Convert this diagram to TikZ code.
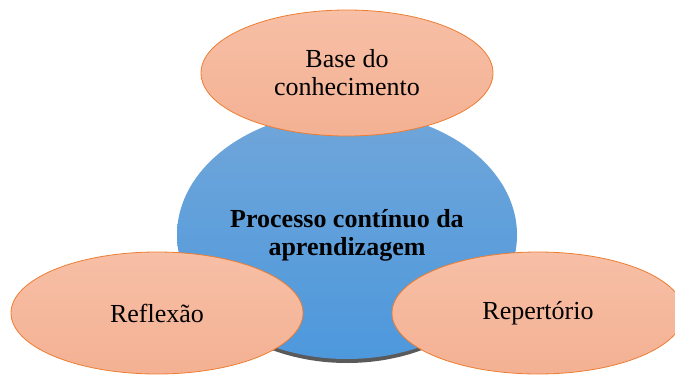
\documentclass[tikz,border=0pt]{standalone}
\usepackage{fontspec}
\setmainfont{Liberation Serif}
\usepackage{tikz}
\usetikzlibrary{shapes.geometric, positioning}
\definecolor{PeachTop}{HTML}{F7BFA6}
\definecolor{PeachBot}{HTML}{F4B193}
\definecolor{PeachLine}{HTML}{ED7D31}
\definecolor{BlueTop}{HTML}{70A6DA}
\definecolor{BlueBot}{HTML}{4D98DC}
\definecolor{ShadeGray}{HTML}{5A5A5A}

\begin{document}
\begin{tikzpicture}[x=1pt,y=1pt,
        topic/.style={ellipse, draw=PeachLine, line width=.8pt, top color=PeachTop, bottom color=PeachBot,
                minimum width=292pt, minimum height=122pt, inner sep=0pt, align=center,
                font=\fontsize{26}{28}\selectfont},
        core/.style={ellipse, top color=BlueTop, bottom color=BlueBot,
                minimum width=340pt, minimum height=248pt, inner sep=0pt, align=center,
                font=\bfseries\fontsize{26}{28}\selectfont}]
        \useasboundingbox (0,0) rectangle (675,376);
        % shadow under the centre
        \node[ellipse, fill=ShadeGray, minimum width=336pt, minimum height=248pt] (shade) at (347,137) {};
        \node[core] (proc) at (347,141) {Processo contínuo da\\aprendizagem};
        \node[topic, minimum height=126pt] (base) at (347,303) {Base do\\conhecimento};
        \node[topic] (refl) at (157,63) {Reflexão};
        \node[topic] (rep) at (538,63) {Repertório};
\end{tikzpicture}
\end{document}
